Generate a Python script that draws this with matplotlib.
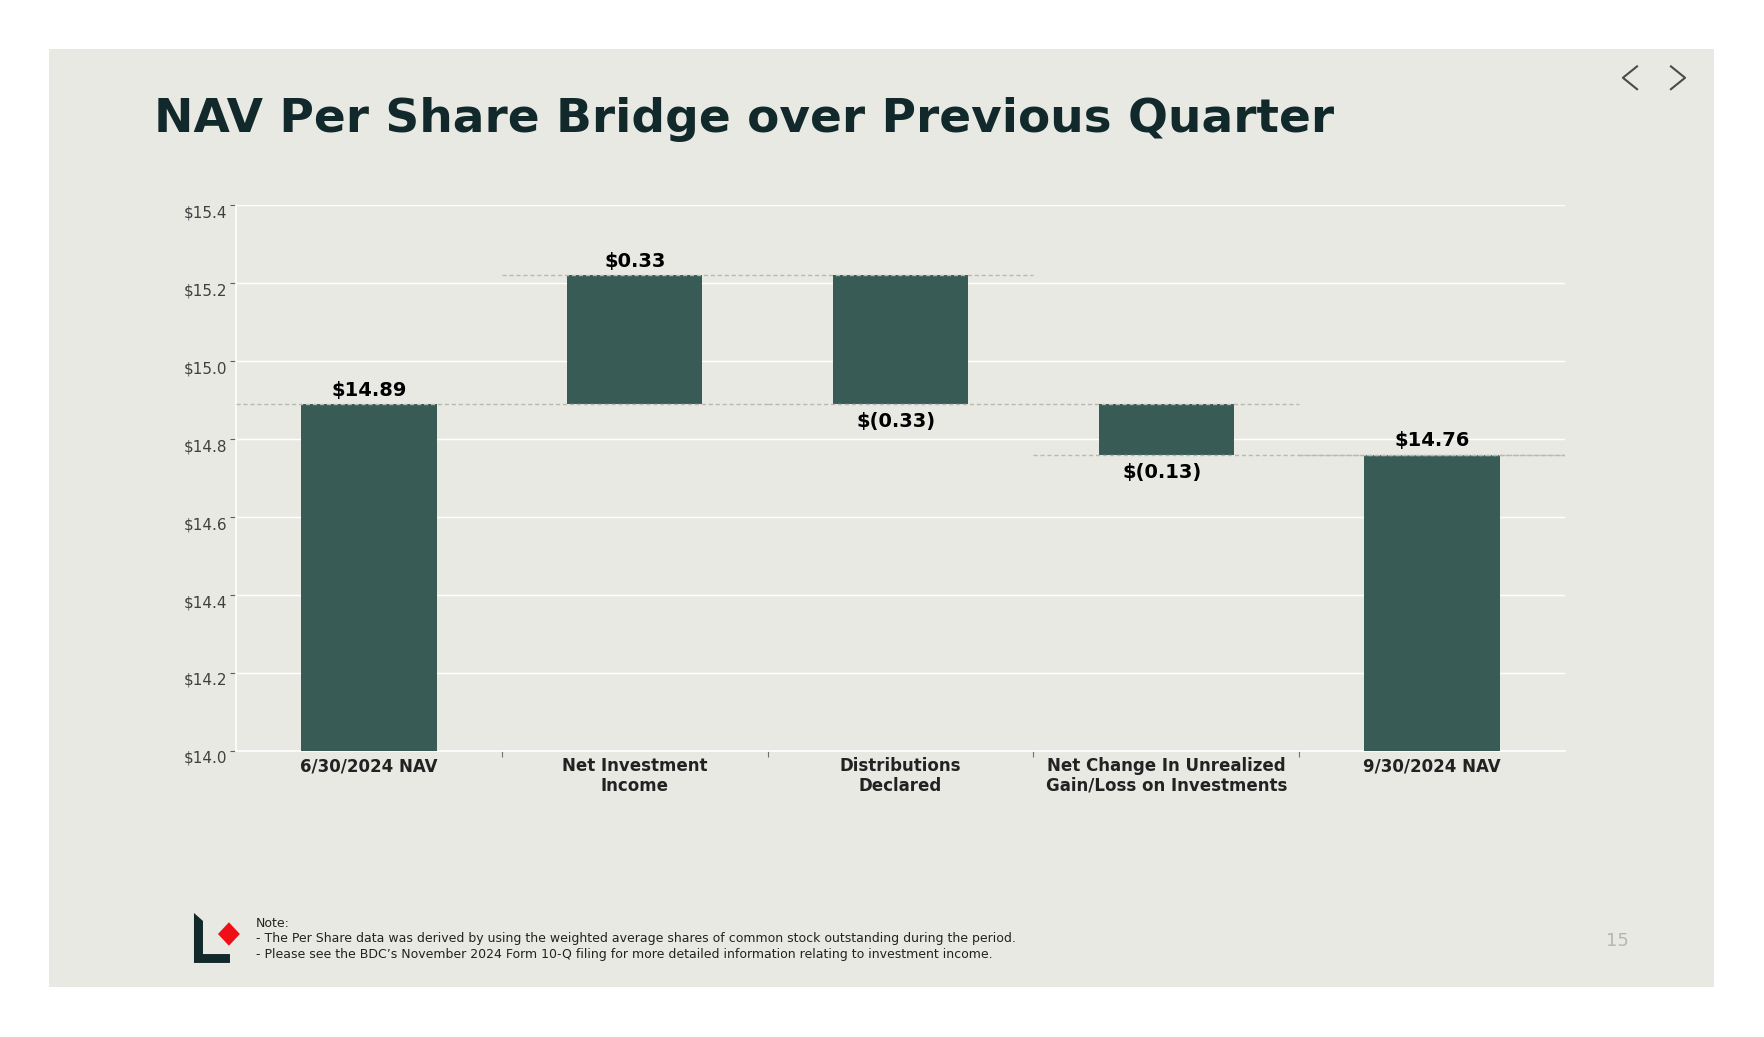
import matplotlib
matplotlib.use("Agg")
import matplotlib.pyplot as plt
from matplotlib.patches import Rectangle, Polygon
import numpy as np

# ---- data -------------------------------------------------------------
categories = [
    "6/30/2024 NAV",
    "Net Investment\nIncome",
    "Distributions\nDeclared",
    "Net Change In Unrealized\nGain/Loss on Investments",
    "9/30/2024 NAV",
]
values = [14.89, 0.33, -0.33, -0.13, 14.76]
is_total = [True, False, False, False, True]
y_ticks = [14.0, 14.2, 14.4, 14.6, 14.8, 15.0, 15.2, 15.4]

title = "NAV Per Share Bridge over Previous Quarter"
note_lines = [
    "Note:",
    "- The Per Share data was derived by using the weighted average shares of common stock outstanding during the period.",
    "- Please see the BDC\u2019s November 2024 Form 10-Q filing for more detailed information relating to investment income.",
]
page_no = "15"

# ---- style ------------------------------------------------------------
BG = "#E9E9E4"
BAR = "#385B55"
DARK = "#12292B"
Y_MIN, Y_MAX = 14.0, 15.4

fig = plt.figure(figsize=(17.65, 10.37), dpi=100, facecolor="white")
slide = Rectangle((0.0278, 0.0482), 0.9433, 0.9045, transform=fig.transFigure,
                  facecolor=BG, edgecolor="none", zorder=-10)
fig.add_artist(slide)

ax = fig.add_axes([0.1337, 0.2758, 0.7530, 0.5265])
ax.set_facecolor(BG)
ax.set_zorder(1)

# waterfall geometry
bottoms, tops = [], []
level = 0.0
for v, tot in zip(values, is_total):
    if tot:
        level = v
        bottoms.append(Y_MIN)
        tops.append(v)
    else:
        start = level
        level = level + v
        bottoms.append(min(start, level))
        tops.append(max(start, level))

x = np.arange(len(categories))
heights = [t - b for t, b in zip(tops, bottoms)]
ax.bar(x, heights, bottom=bottoms, width=0.51, color=BAR, zorder=3)

# connector dashed lines: level after step i spans category i and i+1
level = 0.0
for i, (v, tot) in enumerate(zip(values, is_total)):
    level = v if tot else level + v
    x_end = i + 1.5 if i < len(values) - 1 else i + 0.5
    ax.plot([i - 0.5, x_end], [level, level], color="#B8B8B4",
            linestyle=(0, (3, 2)), linewidth=1.0, zorder=4)

# value labels
for i, (v, tot) in enumerate(zip(values, is_total)):
    if v >= 0:
        ax.annotate(f"${v:.2f}", (x[i], tops[i]), xytext=(0, 3),
                    textcoords="offset points", ha="center", va="bottom",
                    fontsize=14, fontweight="bold", color="black", zorder=5)
    else:
        ax.annotate(f"$({abs(v):.2f})", (x[i] - 0.015, bottoms[i]), xytext=(0, -6),
                    textcoords="offset points", ha="center", va="top",
                    fontsize=14, fontweight="bold", color="black", zorder=5)

ax.set_xlim(-0.5, len(categories) - 0.5)
ax.set_ylim(Y_MIN, Y_MAX)
ax.set_yticks(y_ticks)
ax.set_yticklabels([f"${t:.1f}" for t in y_ticks], fontsize=11, color="#404040",
                   va="top")
ax.set_xticks(x)
ax.set_xticklabels(categories, fontsize=12, fontweight="bold", color="#222222",
                   linespacing=1.1)
ax.set_xticks(np.arange(0.5, len(categories) - 0.5, 1.0), minor=True)
ax.tick_params(axis="x", which="major", length=0, pad=4.5)
ax.tick_params(axis="x", which="minor", length=4, color="#707070", width=0.8)
ax.tick_params(axis="y", length=4, color="#606060", width=0.8, pad=2)
ax.grid(axis="y", color="white", linewidth=1.0, zorder=0)
ax.set_axisbelow(True)
for side in ["top", "right"]:
    ax.spines[side].set_visible(False)
for side in ["left", "bottom"]:
    ax.spines[side].set_color("white")
    ax.spines[side].set_linewidth(1.2)

# ---- slide decorations ------------------------------------------------
fig.text(0.0873, 0.873, title, fontsize=33.8, fontweight="bold", color=DARK,
         ha="left", va="baseline")

# nav chevrons
for cx, d in [(0.9235, -1), (0.9507, 1)]:
    fig.add_artist(plt.Line2D([cx - d * 0.004, cx + d * 0.004, cx - d * 0.004],
                              [0.936, 0.925, 0.914], transform=fig.transFigure,
                              color="#4A4A4A", linewidth=1.5))

fig.text(0.9165, 0.0926, page_no, fontsize=13, color="#B5B5B2", ha="center", va="center")

# logo
fig.add_artist(Polygon([[0.1099, 0.1196], [0.1150, 0.1119], [0.1150, 0.0800],
                        [0.1303, 0.0800], [0.1303, 0.0714], [0.1099, 0.0714]],
                       closed=True, transform=fig.transFigure,
                       facecolor=DARK, edgecolor="none"))
fig.add_artist(Polygon([[0.1297, 0.1106], [0.1359, 0.0993], [0.1297, 0.0880],
                        [0.1235, 0.0993]], closed=True, transform=fig.transFigure,
                       facecolor="#F00F16", edgecolor="none"))

fig.text(0.1450, 0.1160, "\n".join(note_lines), fontsize=9, color="#222222",
         ha="left", va="top", linespacing=1.25)

fig.savefig("out.png", dpi=100, facecolor="white")
